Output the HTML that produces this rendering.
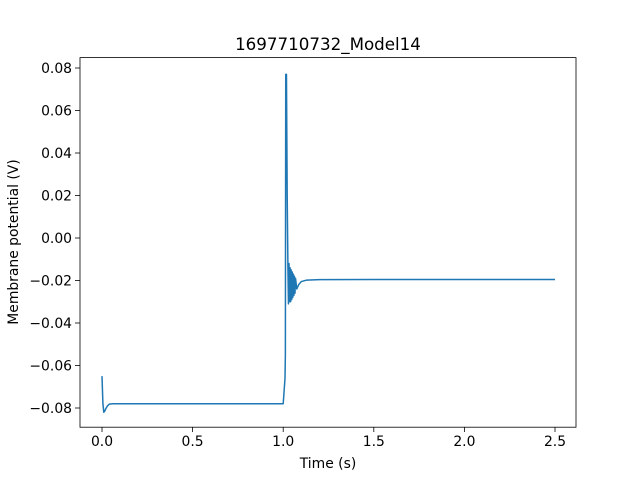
<!DOCTYPE html>
<html><head><meta charset="utf-8"><style>
body{margin:0;background:#fff;font-family:"DejaVu Sans",sans-serif}
text{font-family:"DejaVu Sans",sans-serif;fill:#000}
</style></head><body>
<svg id="c" width="640" height="480" xmlns="http://www.w3.org/2000/svg">
<rect width="640" height="480" fill="#fff"/>
<text x="328" y="50" font-size="16.7" text-anchor="middle">1697710732_Model14</text>
<g id="plot"></g>
<rect x="80" y="57.6" width="496" height="369.6" fill="none" stroke="#000" stroke-width="0.8"/>
<g id="xt"></g><g id="yt"></g>
<text x="328" y="468" font-size="13.9" text-anchor="middle">Time (s)</text>
<text transform="translate(18,242) rotate(-90)" font-size="13.9" text-anchor="middle">Membrane potential (V)</text>
</svg>
<script>
const times=[0,0.005,0.01,0.015,0.02,0.03,0.04,0.06,0.2,0.5,1.0,1.005,1.01,1.012,1.014,1.018,1.022,1.026,1.029,1.032,1.035,1.038,1.041,1.044,1.047,1.050,1.053,1.056,1.059,1.062,1.065,1.068,1.075,1.085,1.1,1.13,1.2,1.5,2.0,2.5];
const volts=[-0.065,-0.078,-0.082,-0.0815,-0.0805,-0.079,-0.0782,-0.078,-0.078,-0.078,-0.078,-0.072,-0.066,-0.055,0.077,0.077,0.02,-0.013,-0.031,-0.012,-0.030,-0.014,-0.030,-0.015,-0.029,-0.016,-0.028,-0.017,-0.027,-0.018,-0.026,-0.019,-0.024,-0.022,-0.0205,-0.0198,-0.0196,-0.0195,-0.0195,-0.0195];
const xTicks=[0,0.5,1.0,1.5,2.0,2.5];
const xLabels=["0.0","0.5","1.0","1.5","2.0","2.5"];
const yTicks=[-0.08,-0.06,-0.04,-0.02,0,0.02,0.04,0.06,0.08];
const yLabels=["−0.08","−0.06","−0.04","−0.02","0.00","0.02","0.04","0.06","0.08"];
const X=t=>102+t*181.2, Y=v=>238-v*2125;
const NS="http://www.w3.org/2000/svg";
const p=document.createElementNS(NS,"path");


p.setAttribute("d",times.map((t,i)=>(i?"L":"M")+X(t).toFixed(2)+","+Y(volts[i]).toFixed(2)).join(""));
p.setAttribute("fill","none");p.setAttribute("stroke","#1f77b4");p.setAttribute("stroke-width","1.5");p.setAttribute("stroke-linejoin","round");
document.getElementById("plot").appendChild(p);
const xt=document.getElementById("xt");
xTicks.forEach((t,i)=>{
 const l=document.createElementNS(NS,"line");
 
 
 l.setAttribute("x1",X(t));l.setAttribute("x2",X(t));l.setAttribute("y1",427.2);l.setAttribute("y2",432);l.setAttribute("stroke","#000");l.setAttribute("stroke-width","0.8");xt.appendChild(l);
 const s=document.createElementNS(NS,"text");
 
 
 s.setAttribute("x",X(t));s.setAttribute("y",446);s.setAttribute("font-size","13.9");s.setAttribute("text-anchor","middle");s.textContent=xLabels[i];xt.appendChild(s);
});
const yt=document.getElementById("yt");
yTicks.forEach((v,i)=>{
 const l=document.createElementNS(NS,"line");
 
 
 l.setAttribute("x1",75);l.setAttribute("x2",80);l.setAttribute("y1",Y(v));l.setAttribute("y2",Y(v));l.setAttribute("stroke","#000");l.setAttribute("stroke-width","0.8");yt.appendChild(l);
 const s=document.createElementNS(NS,"text");
 
 
 s.setAttribute("x",72);s.setAttribute("y",Y(v)+5);s.setAttribute("font-size","13.9");s.setAttribute("text-anchor","end");s.textContent=yLabels[i];yt.appendChild(s);
});
</script>
</body></html>
